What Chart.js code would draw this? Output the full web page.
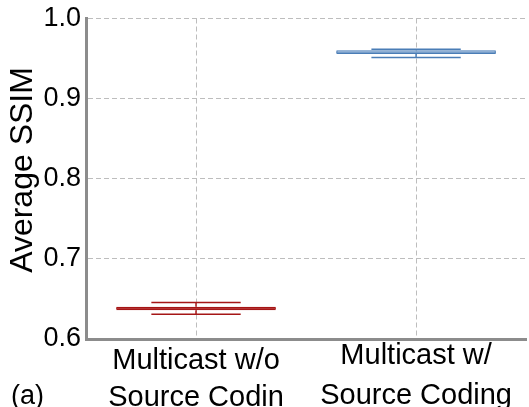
<!DOCTYPE html>
<html>
<head>
<meta charset="utf-8">
<script src="https://cdn.jsdelivr.net/npm/chart.js@4/dist/chart.umd.min.js"></script>
<style>
  html, body { margin: 0; padding: 0; background: #fff; }
  #wrap { width: 529px; height: 407px; position: relative; }
</style>
</head>
<body>
<div id="wrap"><canvas id="chart"></canvas></div>
<script>
// Box-plot summary per configuration (SSIM)
const categories = [
  ['Multicast w/o', 'Source Codin'],
  ['Multicast w/', 'Source Coding']
];
const lowerQuartile = [0.6360, 0.9557];
const upperQuartile = [0.6403, 0.9603];
const medians       = [0.6384, 0.9580];
const whiskerLow    = [0.6310, 0.9513];
const whiskerHigh   = [0.6454, 0.9615];
const yTicks        = [0.6, 0.7, 0.8, 0.9, 1.0];
const yTitle        = 'Average SSIM';
const panelLabel    = '(a)';

const edgeColors = ['#a51616', '#4a7db6'];
const fillColors = ['#d98080', '#c9dcf0'];
const FONT = '"Liberation Sans", Arial, Helvetica, sans-serif';

// Whiskers, caps and median lines drawn on top of the box bars
const boxExtras = {
  id: 'boxExtras',
  afterDatasetsDraw(chart) {
    const { ctx, scales: { x, y } } = chart;
    const meta = chart.getDatasetMeta(0);
    meta.data.forEach((bar, i) => {
      const cx = x.getPixelForValue(i);
      const capHalf = bar.width * 0.28;
      const boxHalf = bar.width / 2;
      const yLo = y.getPixelForValue(whiskerLow[i]);
      const yHi = y.getPixelForValue(whiskerHigh[i]);
      const yQ1 = y.getPixelForValue(lowerQuartile[i]);
      const yQ3 = y.getPixelForValue(upperQuartile[i]);
      const yMed = y.getPixelForValue(medians[i]);
      ctx.save();
      ctx.strokeStyle = edgeColors[i];
      ctx.lineWidth = 1.5;
      ctx.beginPath();
      ctx.moveTo(cx, yQ1); ctx.lineTo(cx, yLo);
      ctx.moveTo(cx, yQ3); ctx.lineTo(cx, yHi);
      ctx.moveTo(cx - capHalf, yLo); ctx.lineTo(cx + capHalf, yLo);
      ctx.moveTo(cx - capHalf, yHi); ctx.lineTo(cx + capHalf, yHi);
      ctx.stroke();
      ctx.lineWidth = 1;
      ctx.beginPath();
      ctx.moveTo(cx - boxHalf, yMed); ctx.lineTo(cx + boxHalf, yMed);
      ctx.stroke();
      ctx.restore();
    });
  }
};

// Rotated y-axis title and the panel tag in the lower-left corner
const sideText = {
  id: 'sideText',
  afterDraw(chart) {
    const ctx = chart.ctx;
    ctx.save();
    ctx.fillStyle = '#000';
    ctx.font = '32px ' + FONT;
    ctx.translate(23, 170);
    ctx.rotate(-Math.PI / 2);
    ctx.textAlign = 'center';
    ctx.textBaseline = 'middle';
    ctx.fillText(yTitle, 0, 0);
    ctx.restore();

    ctx.save();
    ctx.font = '27px ' + FONT;
    ctx.fillStyle = '#000';
    ctx.textBaseline = 'alphabetic';
    ctx.fillText(panelLabel, 11, 404);
    ctx.restore();
  }
};

new Chart(document.getElementById('chart'), {
  type: 'bar',
  data: {
    labels: categories,
    datasets: [{
      data: lowerQuartile.map((q, i) => [q, upperQuartile[i]]),
      backgroundColor: fillColors,
      borderColor: edgeColors,
      borderWidth: 1.2,
      borderSkipped: false,
      barPercentage: 0.725,
      categoryPercentage: 1.0
    }]
  },
  options: {
    responsive: true,
    maintainAspectRatio: false,
    animation: false,
    layout: { padding: { top: 16, right: 0, left: 0, bottom: 0 } },
    plugins: { legend: { display: false }, tooltip: { enabled: false } },
    scales: {
      x: {
        offset: true,
        grid: { offset: false, color: '#bdbdbd', lineWidth: 1, drawTicks: false },
        border: { display: true, color: '#8c8c8c', width: 3, dash: [5, 3] },
        ticks: {
          color: '#000',
          padding: 17,
          maxRotation: 0,
          autoSkip: false,
          crossAlign: 'far',
          font: ctx => ({ family: FONT, size: 29, lineHeight: ctx.index === 0 ? 1.293 : 1.379 })
        },
        afterFit(scale) { scale.height = 68; }
      },
      y: {
        min: 0.6,
        max: 1.0,
        grid: { color: '#bdbdbd', lineWidth: 1, drawTicks: false },
        border: { display: true, color: '#8c8c8c', width: 3, dash: [5, 3] },
        afterBuildTicks(scale) { scale.ticks = yTicks.map(v => ({ value: v })); },
        ticks: {
          color: '#000',
          padding: 5,
          font: { family: FONT, size: 27, lineHeight: 1.0 },
          callback: v => Number(v).toFixed(1)
        },
        afterFit(scale) { scale.width = 86; }
      }
    }
  },
  plugins: [boxExtras, sideText]
});
</script>
</body>
</html>
